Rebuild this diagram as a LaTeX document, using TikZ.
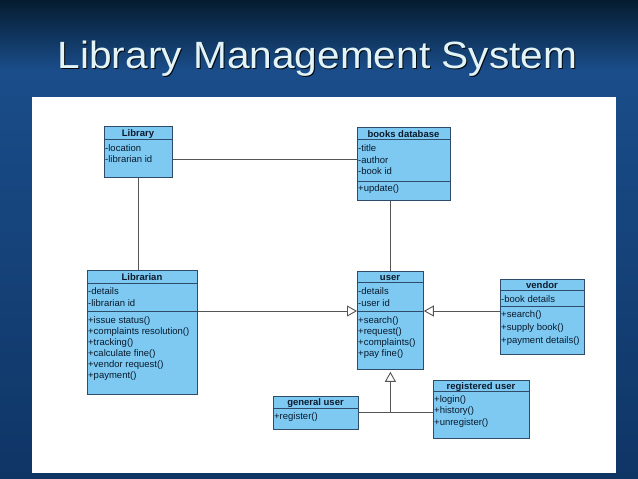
\documentclass[tikz,border=0pt]{standalone}
\usepackage{fontspec}
\setmainfont{Liberation Sans}
\usetikzlibrary{arrows.meta,calc}
\definecolor{boxfill}{HTML}{7DC9F2}
\definecolor{boxline}{HTML}{2E4C6A}
\definecolor{txt}{HTML}{0A1A2C}
\definecolor{conn}{HTML}{555555}
\definecolor{bgtop}{HTML}{051C30}
\definecolor{bgmid}{HTML}{1A4D8A}
\definecolor{bgbot}{HTML}{0F3565}
\definecolor{titlecol}{HTML}{E2F4F8}
\tikzset{
  cls/.style={draw=boxline, fill=boxfill, line width=0.8pt, inner sep=0pt, anchor=north west},
  sepline/.style={draw=boxline, line width=0.8pt},
  row/.style={anchor=west, inner sep=0pt, text height=9.8pt, text depth=2pt, font=\fontsize{9.5}{10}\selectfont, text=txt},
  ctitle/.style={anchor=center, inner sep=0pt, text height=9.8pt, text depth=2pt, font=\bfseries\fontsize{9.5}{10}\selectfont, text=txt},
  conn/.style={draw=conn, line width=0.9pt},
  gen/.style={conn, -{Triangle[open, width=11pt, length=10pt]}}
}
\begin{document}
\begin{tikzpicture}[x=1pt,y=-1pt]
\useasboundingbox (0,0) rectangle (638,479);
% background
\shade[top color=bgtop, bottom color=bgmid] (0,0) rectangle (638,70);
\shade[top color=bgmid, bottom color=bgbot] (0,70) rectangle (638,479);
\fill[white] (32,97) rectangle (616,472.5);
% title
\node[font=\fontsize{38}{46}\selectfont, text=black!70!bgtop, xscale=1.07, anchor=base, inner sep=0pt] (titleshadow) at (318.5,69) {Library Management System};
\node[font=\fontsize{38}{46}\selectfont, text=titlecol, xscale=1.07, anchor=base, inner sep=0pt] (title) at (317.5,68) {Library Management System};

% Library
\node[cls, minimum width=68pt, minimum height=51pt] (lib) at (104,126) {};
\draw[sepline] (104,139) -- (172,139);
\node[ctitle] (lib-t) at (138,132.5) {Library};
\node[row] (lib-a1) at (105,147.5) {-location};
\node[row] (lib-a2) at (105,159) {-librarian id};

% books database
\node[cls, minimum width=93pt, minimum height=73pt] (bdb) at (357,127) {};
\draw[sepline] (357,139.5) -- (450,139.5);
\draw[sepline] (357,181) -- (450,181);
\node[ctitle] (bdb-t) at (403.5,133.2) {books database};
\node[row] (bdb-a1) at (358,148) {-title};
\node[row] (bdb-a2) at (358,159.5) {-author};
\node[row] (bdb-a3) at (358,171) {-book id};
\node[row] (bdb-m1) at (358,188) {+update()};

% Librarian
\node[cls, minimum width=110pt, minimum height=124pt] (lbr) at (87,270) {};
\draw[sepline] (87,283) -- (197,283);
\draw[sepline] (87,311) -- (197,311);
\node[ctitle] (lbr-t) at (142,276.5) {Librarian};
\node[row] (lbr-a1) at (88,290.5) {-details};
\node[row] (lbr-a2) at (88,302.5) {-librarian id};
\node[row] (lbr-m1) at (88,320) {+issue status()};
\node[row] (lbr-m2) at (88,331) {+complaints resolution()};
\node[row] (lbr-m3) at (88,342) {+tracking()};
\node[row] (lbr-m4) at (88,353) {+calculate fine()};
\node[row] (lbr-m5) at (88,364) {+vendor request()};
\node[row] (lbr-m6) at (88,375) {+payment()};

% user
\node[cls, minimum width=66pt, minimum height=98pt] (usr) at (357,271) {};
\draw[sepline] (357,282.5) -- (423,282.5);
\draw[sepline] (357,311) -- (423,311);
\node[ctitle] (usr-t) at (390,276.8) {user};
\node[row] (usr-a1) at (358,290.5) {-details};
\node[row] (usr-a2) at (358,302.5) {-user id};
\node[row] (usr-m1) at (358,320) {+search()};
\node[row] (usr-m2) at (358,331) {+request()};
\node[row] (usr-m3) at (358,342) {+complaints()};
\node[row] (usr-m4) at (358,353) {+pay fine()};

% vendor
\node[cls, minimum width=84pt, minimum height=75pt] (ven) at (500,278.5) {};
\draw[sepline] (500,290.5) -- (584,290.5);
\draw[sepline] (500,306) -- (584,306);
\node[ctitle] (ven-t) at (542,284.5) {vendor};
\node[row] (ven-a1) at (501,299) {-book details};
\node[row] (ven-m1) at (501,314) {+search()};
\node[row] (ven-m2) at (501,327) {+supply book()};
\node[row] (ven-m3) at (501,340) {+payment details()};

% general user
\node[cls, minimum width=85pt, minimum height=33pt] (gu) at (273,396) {};
\draw[sepline] (273,408) -- (358,408);
\node[ctitle] (gu-t) at (315.5,402) {general user};
\node[row] (gu-m1) at (274,416) {+register()};

% registered user
\node[cls, minimum width=96pt, minimum height=58pt] (ru) at (433,380) {};
\draw[sepline] (433,391.5) -- (529,391.5);
\node[ctitle] (ru-t) at (481,385.5) {registered user};
\node[row] (ru-m1) at (434,398.5) {+login()};
\node[row] (ru-m2) at (434,410) {+history()};
\node[row] (ru-m3) at (434,421.5) {+unregister()};

% connectors
\coordinate (uj) at (390,311);
\draw[conn] (lib-a2 -| lib.east) -- (lib-a2 -| bdb.west);
\draw[conn] (lib.south) -- (lib.south |- lbr.north);
\draw[conn] (usr.north |- bdb.south) -- (usr.north);
\draw[gen] (uj -| lbr.east) -- (uj -| usr.west);
\draw[gen] (uj -| ven.west) -- (uj -| usr.east);
\draw[conn] (gu.east) -- (gu.east -| ru.west);
\draw[gen] (gu.east -| usr.south) -- ([yshift=-2pt]usr.south);
\end{tikzpicture}
\end{document}
